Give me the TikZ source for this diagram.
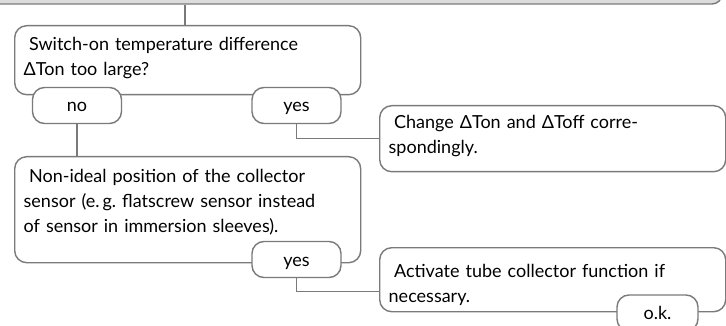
\documentclass[tikz,border=0pt]{standalone}
\usepackage{fontspec}
\setmainfont{Lato}
\usetikzlibrary{positioning}

% Gaps above the first baseline and below the last one
\newcommand{\topgap}[1]{\rule{0pt}{#1pt}}
\newcommand{\botgap}[1]{\rule[-#1pt]{0pt}{#1pt}}

\begin{document}
\begin{tikzpicture}[x=1pt, y=-1pt,
    line/.style={draw=lineColour, line width=1.4pt},
    qbox/.style={line, rounded corners=12pt, fill=white, anchor=north west,
        align=left, inner xsep=9pt, inner ysep=0pt, minimum width=346pt,
        text width=328pt, text=textColour, font=\fontsize{18}{25}\selectfont},
    pill/.style={line, rounded corners=12pt, fill=white, minimum width=89pt,
        minimum height=36pt, inner sep=0pt, text=textColour,
        text height=13pt, text depth=0pt, font=\fontsize{18}{25}\selectfont}]
    % Define colours
    \definecolor{lineColour}{HTML}{7A7A7A}
    \definecolor{barColour}{HTML}{DCDCDC}
    \definecolor{textColour}{HTML}{000000}

    % Fix the page size
    \useasboundingbox (0,0) rectangle (726,326);
    \clip (0,0) rectangle (726,326);

    % Draw bar at top
    \node[line, fill=barColour, rounded corners=10pt, minimum width=732pt,
        minimum height=28pt, inner sep=0pt] (bar) at (356,-10) {};

    % Draw question boxes
    \node[qbox] (q1) at (14,25)
        {\topgap{25}\hspace*{0.3em}Switch-on temperature difference\\ΔTon too large?\botgap{19}};
    \node[qbox] (q3) at (14,156)
        {\topgap{26}\hspace*{0.3em}Non-ideal position of the collector\\sensor (e.\,g.\ flatscrew sensor instead\\of sensor in immersion sleeves).\botgap{30}};

    % Draw action boxes
    \node[qbox, minimum width=345pt] (q2) at (379,105)
        {\topgap{23}\hspace*{0.3em}Change ΔTon and ΔToff corre-\\spondingly.\botgap{18}};
    \node[qbox, minimum width=345pt] (q4) at (379,247)
        {\topgap{30}\hspace*{0.3em}Activate tube collector function if\\necessary.\botgap{9}};

    % Draw answer pills
    \node[pill] (no) at (77,105.5) {no};
    \node[pill] (yes1) at (296.5,105.5) {yes};
    \node[pill] (yes2) at (296.5,259.5) {yes};
    \node[pill, minimum width=81pt] (ok) at (657.5,313) {o.k.};

    % Draw connectors
    \coordinate (t1) at (185,25);
    \draw[line] (bar.south -| t1) -- (t1);
    \draw[line] (no.south) -- (no.south |- q3.north);
    \draw[line] (yes1.south) |- (q2.west);
    \draw[line] (yes2.south) |- ([yshift=-12pt]q4.west);

\end{tikzpicture}
\end{document}
